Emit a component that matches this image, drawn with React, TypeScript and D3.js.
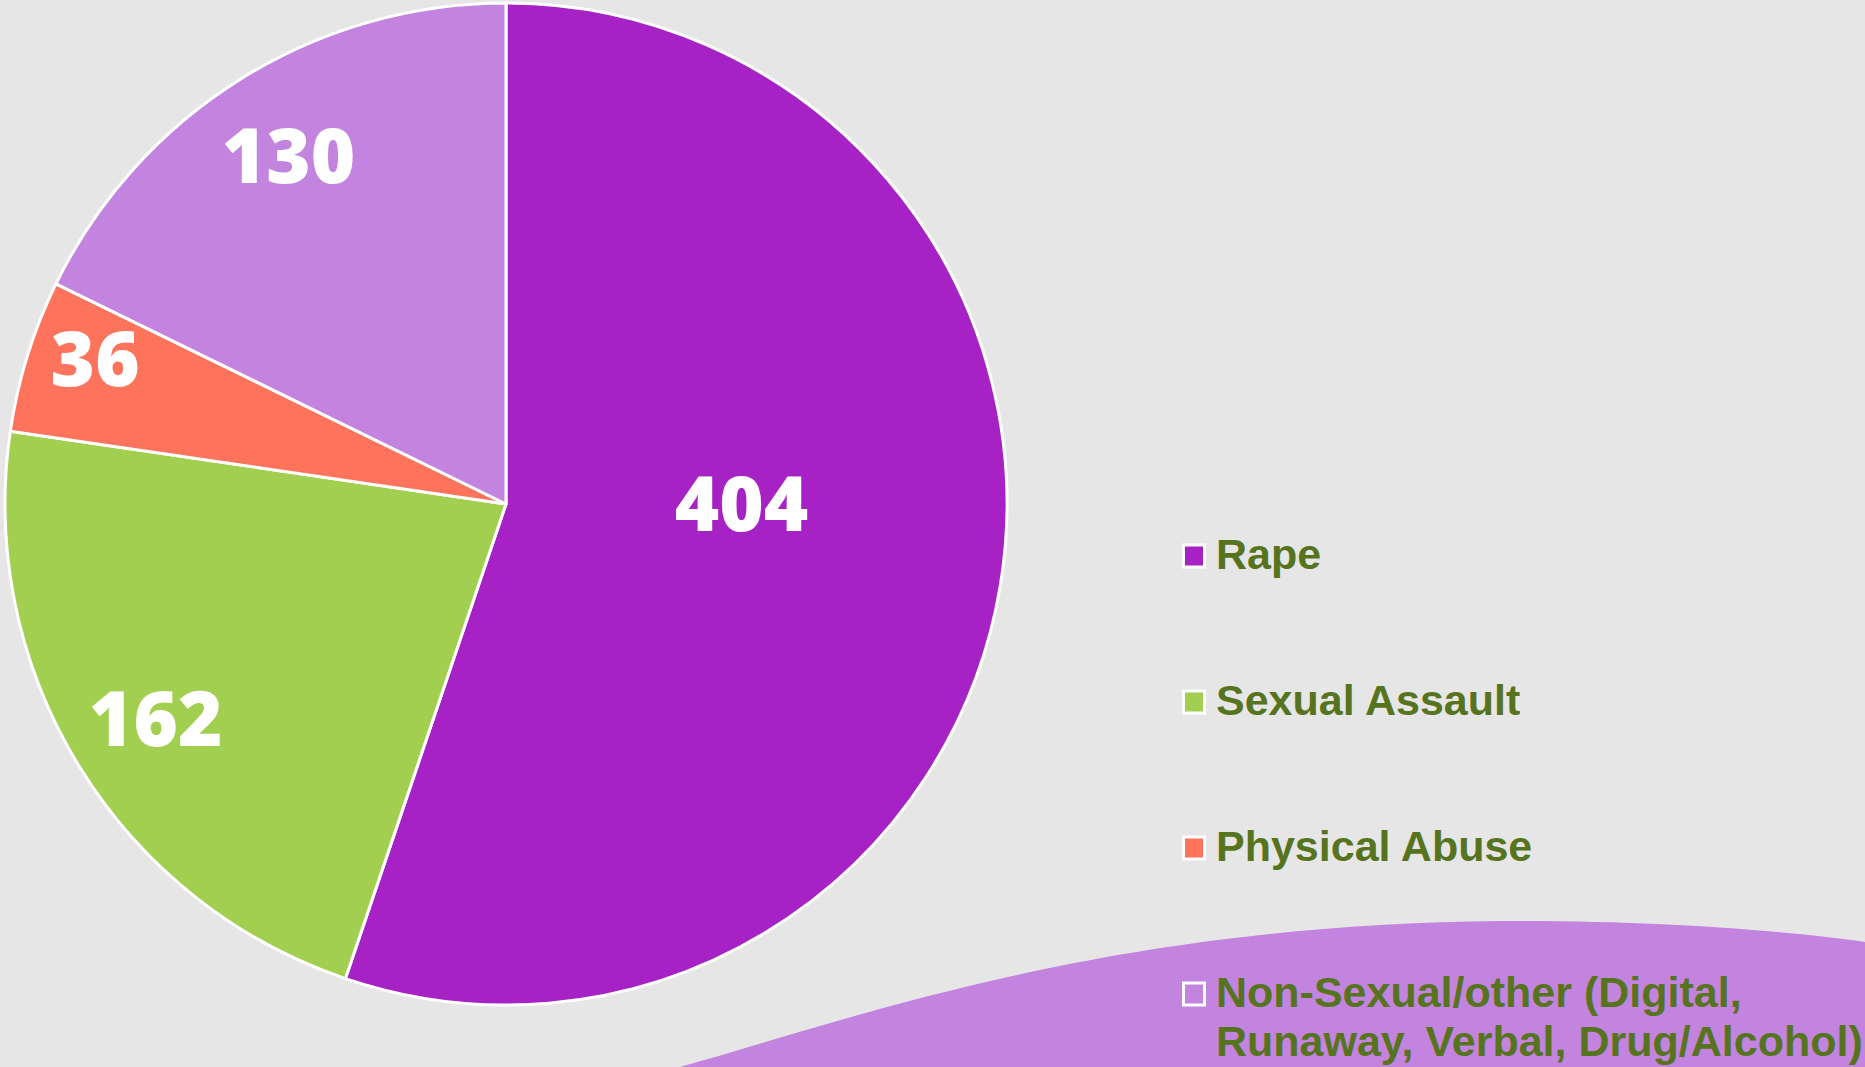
import React from 'react';
import * as d3 from 'd3';

// chart values
const categories = ['Rape', 'Sexual Assault', 'Physical Abuse', 'Non-Sexual/other (Digital, Runaway, Verbal, Drug/Alcohol)'];
const values = [404, 162, 36, 130];
const colors = ['#A722C5', '#A2CF50', '#FD735C', '#C284DE'];
const legendLines = [['Rape'], ['Sexual Assault'], ['Physical Abuse'], ['Non-Sexual/other (Digital,', 'Runaway, Verbal, Drug/Alcohol)']];

// label placement (fraction of radius + optional angle in degrees), Excel "best fit" style
const labelRadius = [0.47, 0.82, 0.87, 0.82];
const labelAngleDeg: (number | null)[] = [90, null, 289.5, null];

const W = 1865;
const H = 1067;
const cx = 506;
const cy = 504;
const R = 501;

const App: React.FC = () => {
  const pie = d3.pie<number>().sort(null).value(d => d);
  const arcs = pie(values);
  const arcGen = d3.arc<d3.PieArcDatum<number>>().innerRadius(0).outerRadius(R);

  const legendX = 1182;
  const legendY = d3.scaleLinear().domain([0, 1]).range([556, 702]);

  return (
    <div style={{ position: 'fixed', left: 0, top: 0 }}>
      <svg width={W} height={H} style={{ display: 'block', background: '#E6E6E6' }}>
        {/* decorative wave */}
        <path
          d="M680,1067 C850,1020 1100,925 1500,921 C1650,920 1780,930 1865,942 L1865,1067 Z"
          fill="#C284DE"
        />
        <g transform={`translate(${cx},${cy})`}>
          {arcs.map((a, i) => (
            <path key={i} d={arcGen(a) || ''} fill={colors[i]} stroke="#fff" strokeWidth={3} strokeLinejoin="round" />
          ))}
          {arcs.map((a, i) => {
            const deg = labelAngleDeg[i];
            const ang = deg != null ? (deg * Math.PI) / 180 : (a.startAngle + a.endAngle) / 2;
            const r = R * labelRadius[i];
            const x = r * Math.sin(ang);
            const y = -r * Math.cos(ang);
            return (
              <text
                key={'l' + i}
                x={x}
                y={y}
                dy="0.36em"
                textAnchor="middle"
                fill="#fff"
                style={{ fontFamily: '"Open Sans", sans-serif', fontWeight: 800, fontSize: 76 }}
              >
                {values[i]}
              </text>
            );
          })}
        </g>
        <g>
          {categories.map((c, i) => {
            const y = legendY(i);
            return (
              <g key={c}>
                <rect x={legendX + 1.5} y={y - 11} width={21} height={22} fill={colors[i]} stroke="#fff" strokeWidth={3} />
                <text
                  x={legendX + 34}
                  y={y + 13}
                  fill="#56731E"
                  style={{ fontFamily: '"Liberation Sans", Arial, sans-serif', fontWeight: 700, fontSize: 43 }}
                >
                  {legendLines[i].map((t, j) => (
                    <tspan key={j} x={legendX + 34} dy={j === 0 ? 0 : 49}>{t}</tspan>
                  ))}
                </text>
              </g>
            );
          })}
        </g>
      </svg>
    </div>
  );
};

export default App;
